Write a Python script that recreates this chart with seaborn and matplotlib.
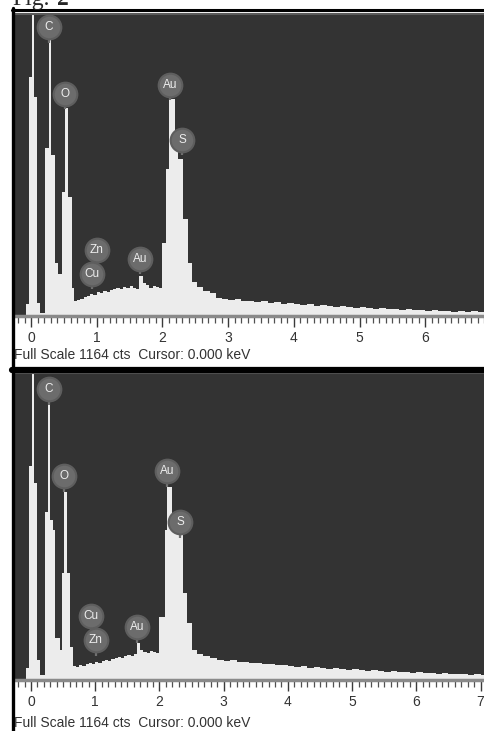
import numpy as np
import pandas as pd
import seaborn as sns
import matplotlib.pyplot as plt
from matplotlib.lines import Line2D
from matplotlib.ticker import MultipleLocator

# EDS spectra, counts per energy bin (keV)
# top spectrum
top_low_edges = [-0.30, -0.08, -0.03, 0.015, 0.04, 0.09, 0.14, 0.21, 0.27, 0.30,
                 0.365, 0.41, 0.47, 0.52, 0.555, 0.62, 0.65]
top_low_counts = [0, 47, 920, 1300, 846, 50, 12, 648, 1063, 620, 206, 163, 477, 800, 458, 109]
top_cont_counts = [58, 62, 66, 74, 78, 85, 81, 93, 89, 97, 93, 101, 105, 109, 105, 113,
                   109, 116, 109, 105, 155, 128, 120, 109, 116, 113, 109]
top_peak_edges = [2.00, 2.06, 2.10, 2.19, 2.24, 2.31, 2.39, 2.45, 2.53, 2.62, 2.72, 2.82, 2.90]
top_peak_counts = [283, 567, 838, 644, 605, 372, 206, 132, 113, 97, 89, 70]
top_tail_counts = [66, 62, 66, 58, 58, 54, 58, 50, 54, 47, 50, 47, 43, 47, 39, 43, 39, 35,
                   39, 35, 31, 35, 31, 27, 31, 27, 27, 23, 27, 23, 23, 19, 23, 19, 19, 16,
                   19, 16, 19, 16, 16, 16]

# bottom spectrum
bot_low_edges = [-0.30, -0.08, -0.03, 0.015, 0.04, 0.09, 0.14, 0.21, 0.27, 0.30,
                 0.34, 0.37, 0.45, 0.48, 0.52, 0.56, 0.61, 0.65]
bot_low_counts = [0, 45, 811, 1300, 747, 76, 19, 637, 1061, 606, 569, 159, 114, 406, 713, 406, 125]
bot_cont_counts = [53, 49, 57, 53, 61, 64, 61, 68, 64, 72, 76, 72, 80, 83, 87, 83, 91, 95,
                   91, 99, 140, 114, 106, 102, 110, 106, 102]
bot_peak_edges = [2.00, 2.09, 2.12, 2.20, 2.24, 2.37, 2.43, 2.51, 2.59, 2.68, 2.78, 2.90]
bot_peak_counts = [239, 569, 731, 606, 569, 330, 216, 114, 99, 91, 83]
bot_tail_counts = [76, 72, 76, 68, 68, 64, 64, 61, 61, 57, 57, 53, 49, 53, 45, 49, 45, 42,
                   45, 42, 38, 42, 38, 34, 38, 34, 30, 34, 30, 30, 27, 30, 27, 27, 23, 27,
                   23, 23, 23, 19, 23, 19]

# peak labels: symbol, energy (keV), label height (cts)
top_labels = ['C', 'O', 'Au', 'S', 'Zn', 'Cu', 'Au']
top_label_keV = [0.27, 0.52, 2.12, 2.30, 1.00, 0.93, 1.66]
top_label_cts = [1114, 857, 892, 679, 256, 163, 221]
bot_labels = ['C', 'O', 'Au', 'S', 'Cu', 'Zn', 'Au']
bot_label_keV = [0.28, 0.51, 2.12, 2.32, 0.93, 1.01, 1.65]
bot_label_cts = [1103, 773, 792, 599, 243, 152, 201]

full_scale = 1164
caption = 'Full Scale 1164 cts  Cursor: 0.000 keV'

cont_grid = np.round(np.arange(0.65, 2.0001, 0.05), 3)
tail_grid = np.round(np.arange(2.90, 7.1001, 0.1), 3)

sns.set_style('white')
plt.rcParams['font.family'] = ['Liberation Sans', 'DejaVu Sans']

W, H = 485, 731
fig = plt.figure(figsize=(W / 100, H / 100), dpi=100)
fig.patch.set_facecolor('white')


def px_axes(x0, y0, x1, y1):
    return fig.add_axes([x0 / W, 1 - y1 / H, (x1 - x0) / W, (y1 - y0) / H])


def draw_panel(ax, low_edges, low_counts, cont_counts, peak_edges, peak_counts,
               tail_counts, xlim, labels, lab_x, lab_y):
    edges = np.concatenate([low_edges[:-1], cont_grid[:-1], peak_edges[:-1], tail_grid])
    counts = low_counts + cont_counts + peak_counts + tail_counts
    spec = pd.DataFrame({'keV': (edges[:-1] + edges[1:]) / 2, 'cts': counts})
    sns.histplot(data=spec, x='keV', weights='cts', bins=[float(e) for e in edges],
                 element='step', fill=True, color='#ececec', alpha=1, linewidth=0, ax=ax)
    ax.set_facecolor('#333333')
    ax.set_xlim(*xlim)
    ax.set_ylim(0, full_scale)
    ax.set_ylabel('')
    ax.set_xlabel('')
    ax.set_yticks([])
    ax.xaxis.set_major_locator(MultipleLocator(1))
    ax.xaxis.set_minor_locator(MultipleLocator(0.1))
    ax.tick_params(axis='x', which='both', bottom=True)
    ax.tick_params(axis='x', which='major', direction='out', length=8, width=1.0,
                   color='#3a3a3a', labelsize=10, labelcolor='#333333', pad=3)
    ax.tick_params(axis='x', which='minor', direction='out', length=5, width=0.9,
                   color='#505050')
    for s in ['left', 'right']:
        ax.spines[s].set_visible(False)
    ax.spines['top'].set_color('#5a5a5a')
    ax.spines['top'].set_linewidth(1.5)
    ax.spines['bottom'].set_color('#8a8a8a')
    ax.spines['bottom'].set_linewidth(2.5)

    # peak labels: stem + grey disc + symbol
    ax.vlines(lab_x, np.array(lab_y) - 60, lab_y, color='#707070', lw=1.6, zorder=4)
    sns.scatterplot(x=lab_x, y=lab_y, s=290, color='#6c6c6c', edgecolor='#5e5e5e',
                    linewidth=1.5, legend=False, zorder=5, ax=ax)
    for sym, x, y in zip(labels, lab_x, lab_y):
        ax.text(x, y, sym, ha='center', va='center', fontsize=8.5, color='#eeeeee', zorder=6)


ax_top = px_axes(15, 14, 485, 316)
draw_panel(ax_top, top_low_edges, top_low_counts, top_cont_counts, top_peak_edges,
           top_peak_counts, top_tail_counts, (-0.245, 6.91),
           top_labels, top_label_keV, top_label_cts)

ax_bot = px_axes(15, 373, 485, 680)
draw_panel(ax_bot, bot_low_edges, bot_low_counts, bot_cont_counts, bot_peak_edges,
           bot_peak_counts, bot_tail_counts, (-0.25, 7.07),
           bot_labels, bot_label_keV, bot_label_cts)

fig.text(14 / W, 1 - 355 / H, caption, fontsize=10, color='#333333', va='center')
fig.text(14 / W, 1 - 723 / H, caption, fontsize=10, color='#333333', va='center')

# frame lines of the figure
fig.add_artist(Line2D([13 / W, 13 / W], [0, 1 - 8 / H], color='black', lw=2.4,
                      transform=fig.transFigure))
fig.add_artist(Line2D([12 / W, 1], [1 - 9.5 / H, 1 - 9.5 / H], color='black', lw=2.2,
                      transform=fig.transFigure))
fig.add_artist(Line2D([12 / W, 1], [1 - 369.5 / H, 1 - 369.5 / H], color='black', lw=4.5,
                      transform=fig.transFigure))

# partly cut figure caption at the very top
fig.text(12 / W, 1 - 5 / H, 'Fig.', family='Liberation Serif', fontsize=17, va='baseline')
fig.text(57 / W, 1 - 5 / H, '2', family='Liberation Serif', fontsize=17,
         fontweight='bold', va='baseline')

fig.savefig('out.png', dpi=100)
